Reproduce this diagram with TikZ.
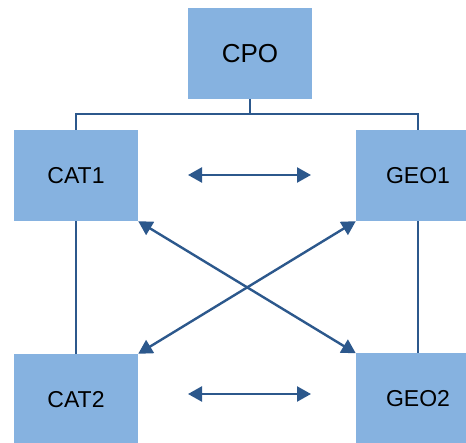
\documentclass[tikz,border=0pt]{standalone}
\usepackage{fontspec}
\setmainfont{Liberation Sans}
\usetikzlibrary{arrows.meta}

\definecolor{boxfill}{RGB}{134,178,224}
\definecolor{linkblue}{RGB}{44,88,140}

\begin{document}
\begin{tikzpicture}[x=1pt,y=-1pt,
                    unit/.style={fill=boxfill,inner sep=0pt,minimum width=124pt,
                                 minimum height=91pt,font=\fontsize{23}{27}\selectfont},
                    link/.style={draw=linkblue,line width=1.3pt},
                    dbl/.style={draw=linkblue,line width=2.4pt,
                                {Triangle[length=14pt,width=15pt]}-{Triangle[length=14pt,width=15pt]}}]

  \useasboundingbox (0,0) rectangle (466,443);

  \node[unit,font=\fontsize{26}{30}\selectfont] (CPO)  at (250,53.5)  {CPO};
  \node[unit]                                   (CAT1) at (76,175.5)  {CAT1};
  \node[unit]                                   (GEO1) at (418,175.5) {GEO1};
  \node[unit]                                   (CAT2) at (76,399.5)  {CAT2};
  \node[unit]                                   (GEO2) at (418,399)   {GEO2};

  \coordinate (bus) at (250,114);
  \coordinate (a1) at (188,175);
  \coordinate (a2) at (311,175);
  \coordinate (b1) at (188,394);
  \coordinate (b2) at (311,394);

  % tree from the top box
  \draw[link] (CPO.south) -- (bus);
  \draw[link] (CAT1.north) |- (bus) -| (GEO1.north);
  \draw[link] (CAT1.south) -- (CAT2.north);
  \draw[link] (GEO1.south) -- (GEO2.north);

  % two-way arrows
  \draw[dbl] (a1) -- (a2);
  \draw[dbl] (b1) -- (b2);
  \draw[dbl] (CAT1.south east) -- (GEO2.north west);
  \draw[dbl] (GEO1.south west) -- (CAT2.north east);
\end{tikzpicture}
\end{document}
